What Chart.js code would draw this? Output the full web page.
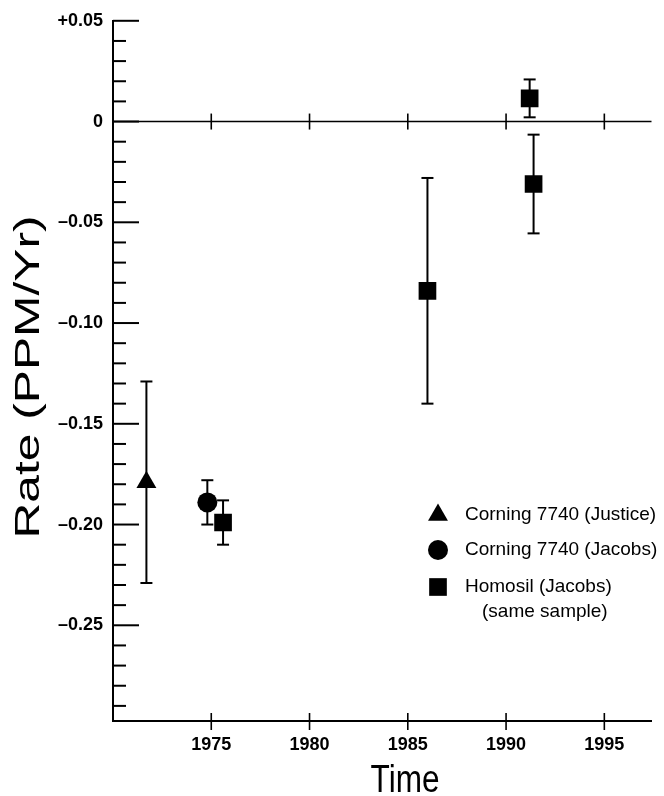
<!DOCTYPE html>
<html>
<head>
<meta charset="utf-8">
<script src="https://cdn.jsdelivr.net/npm/chart.js@4.4.0/dist/chart.umd.min.js"></script>
<style>
  html, body { margin: 0; padding: 0; background: #fff; }
  #wrap { width: 664px; height: 796px; }
</style>
</head>
<body>
<div id="wrap"><canvas id="rateChart" width="664" height="796"></canvas></div>
<script>
// values (year, rate in PPM/Yr, half-length of error bar)
var justiceYears = [1971.7];
var justiceRates = [-0.179];
var justiceErrors = [0.050];

var jacobsYears = [1974.8];
var jacobsRates = [-0.189];
var jacobsErrors = [0.011];

var homosilYears = [1975.6, 1986.0, 1991.4, 1991.2];
var homosilRates = [-0.199, -0.084, -0.031, 0.0115];
var homosilErrors = [0.011, 0.056, 0.0245, 0.0094];

var yearTicks = [1975, 1980, 1985, 1990, 1995];
var rateTicks = [-0.25, -0.20, -0.15, -0.10, -0.05, 0, 0.05];
var rateTickLabels = ['–0.25', '–0.20', '–0.15', '–0.10', '–0.05', '0', '+0.05'];
var seriesLabels = ['Corning 7740 (Justice)', 'Corning 7740 (Jacobs)', 'Homosil (Jacobs)'];

function toPoints(xs, ys) {
    return xs.map(function(x, i) { return { x: x, y: ys[i] }; });
}

var FONT = '"Liberation Sans", Arial, Helvetica, sans-serif';

function strokeLine(ctx, x1, y1, x2, y2) {
    ctx.beginPath();
    ctx.moveTo(x1, y1);
    ctx.lineTo(x2, y2);
    ctx.stroke();
}

// zero line, tick marks, error bars, legend and axis titles
var figurePlugin = {
    id: 'figure',
    beforeDatasetsDraw: function(chart) {
        var ctx = chart.ctx;
        var xs = chart.scales.x, ys = chart.scales.y, area = chart.chartArea;
        ctx.save();
        ctx.strokeStyle = '#000';

        var y0 = ys.getPixelForValue(0);
        ctx.lineWidth = 1.6;
        strokeLine(ctx, area.left, y0, area.right, y0);

        // year ticks cross both the zero line and the bottom axis
        yearTicks.forEach(function(yr) {
            var px = xs.getPixelForValue(yr);
            strokeLine(ctx, px, y0 - 8, px, y0 + 8);
            strokeLine(ctx, px, area.bottom - 8, px, area.bottom + 9);
        });

        // rate ticks point inward, every 0.01
        ctx.lineWidth = 2;
        for (var k = -29; k <= 5; k++) {
            var py = ys.getPixelForValue(k / 100);
            var len = (k % 5 === 0) ? 26 : 13;
            strokeLine(ctx, area.left, py, area.left + len, py);
        }

        // error bars under the markers
        chart.data.datasets.forEach(function(ds) {
            ds.data.forEach(function(p, i) {
                var e = ds.errors[i];
                var px = xs.getPixelForValue(p.x);
                var top = ys.getPixelForValue(p.y + e);
                var bot = ys.getPixelForValue(p.y - e);
                strokeLine(ctx, px, top, px, bot);
                strokeLine(ctx, px - 6, top, px + 6, top);
                strokeLine(ctx, px - 6, bot, px + 6, bot);
            });
        });
        ctx.restore();
    },
    afterDraw: function(chart) {
        var ctx = chart.ctx, area = chart.chartArea;
        ctx.save();
        ctx.fillStyle = '#000';

        // legend
        var mx = area.left + 325, tx = area.left + 352;
        var rows = [515, 550, 587];
        ctx.font = '19px ' + FONT;
        ctx.textAlign = 'left';
        ctx.textBaseline = 'middle';
        chart.data.datasets.forEach(function(ds, i) {
            Chart.helpers.drawPoint(ctx, {
                pointStyle: ds.pointStyle,
                radius: ds.pointRadius,
                rotation: 0,
                borderWidth: 0
            }, mx, rows[i]);
            ctx.fillText(ds.label, tx, rows[i]);
        });
        ctx.fillText('(same sample)', tx + 17, 612);

        // x title
        ctx.save();
        ctx.translate(405, 792);
        ctx.scale(0.83, 1);
        ctx.font = '38px ' + FONT;
        ctx.textAlign = 'center';
        ctx.textBaseline = 'alphabetic';
        ctx.fillText('Time', 0, 0);
        ctx.restore();

        // y title
        ctx.save();
        ctx.translate(29, 377);
        ctx.rotate(-Math.PI / 2);
        ctx.scale(1.42, 1);
        ctx.font = '35px ' + FONT;
        ctx.textAlign = 'center';
        ctx.textBaseline = 'middle';
        ctx.fillText('Rate (PPM/Yr)', 0, 0);
        ctx.restore();

        ctx.restore();
    }
};

var ctx = document.getElementById('rateChart').getContext('2d');
var rateChart = new Chart(ctx, {
    type: 'scatter',
    data: {
        datasets: [{
            label: seriesLabels[0],
            data: toPoints(justiceYears, justiceRates),
            errors: justiceErrors,
            pointStyle: 'triangle',
            pointRadius: 11.5,
            backgroundColor: '#000',
            borderColor: '#000',
            borderWidth: 0
        }, {
            label: seriesLabels[1],
            data: toPoints(jacobsYears, jacobsRates),
            errors: jacobsErrors,
            pointStyle: 'circle',
            pointRadius: 10,
            backgroundColor: '#000',
            borderColor: '#000',
            borderWidth: 0
        }, {
            label: seriesLabels[2],
            data: toPoints(homosilYears, homosilRates),
            errors: homosilErrors,
            pointStyle: 'rect',
            pointRadius: 12.5,
            backgroundColor: '#000',
            borderColor: '#000',
            borderWidth: 0
        }]
    },
    options: {
        responsive: false,
        animation: false,
        layout: { padding: { top: 20, right: 12, left: 0, bottom: 0 } },
        plugins: {
            legend: { display: false },
            tooltip: { enabled: false }
        },
        scales: {
            x: {
                type: 'linear',
                min: 1970,
                max: 1997.4,
                afterBuildTicks: function(scale) {
                    scale.ticks = yearTicks.map(function(v) { return { value: v }; });
                },
                afterFit: function(scale) { scale.height = 75; },
                grid: { display: false, drawTicks: false },
                border: { display: true, color: '#000', width: 2 },
                ticks: {
                    color: '#000',
                    padding: 13,
                    font: { family: FONT, size: 18, weight: 'bold' },
                    callback: function(v) { return String(v); }
                }
            },
            y: {
                type: 'linear',
                min: -0.2975,
                max: 0.05,
                afterBuildTicks: function(scale) {
                    scale.ticks = rateTicks.map(function(v) { return { value: v }; });
                },
                afterFit: function(scale) { scale.width = 113; },
                grid: { display: false, drawTicks: false },
                border: { display: true, color: '#000', width: 2 },
                ticks: {
                    color: '#000',
                    padding: 10,
                    font: { family: FONT, size: 18, weight: 'bold' },
                    callback: function(v, i) { return rateTickLabels[i]; }
                }
            }
        }
    },
    plugins: [figurePlugin]
});
</script>
</body>
</html>
